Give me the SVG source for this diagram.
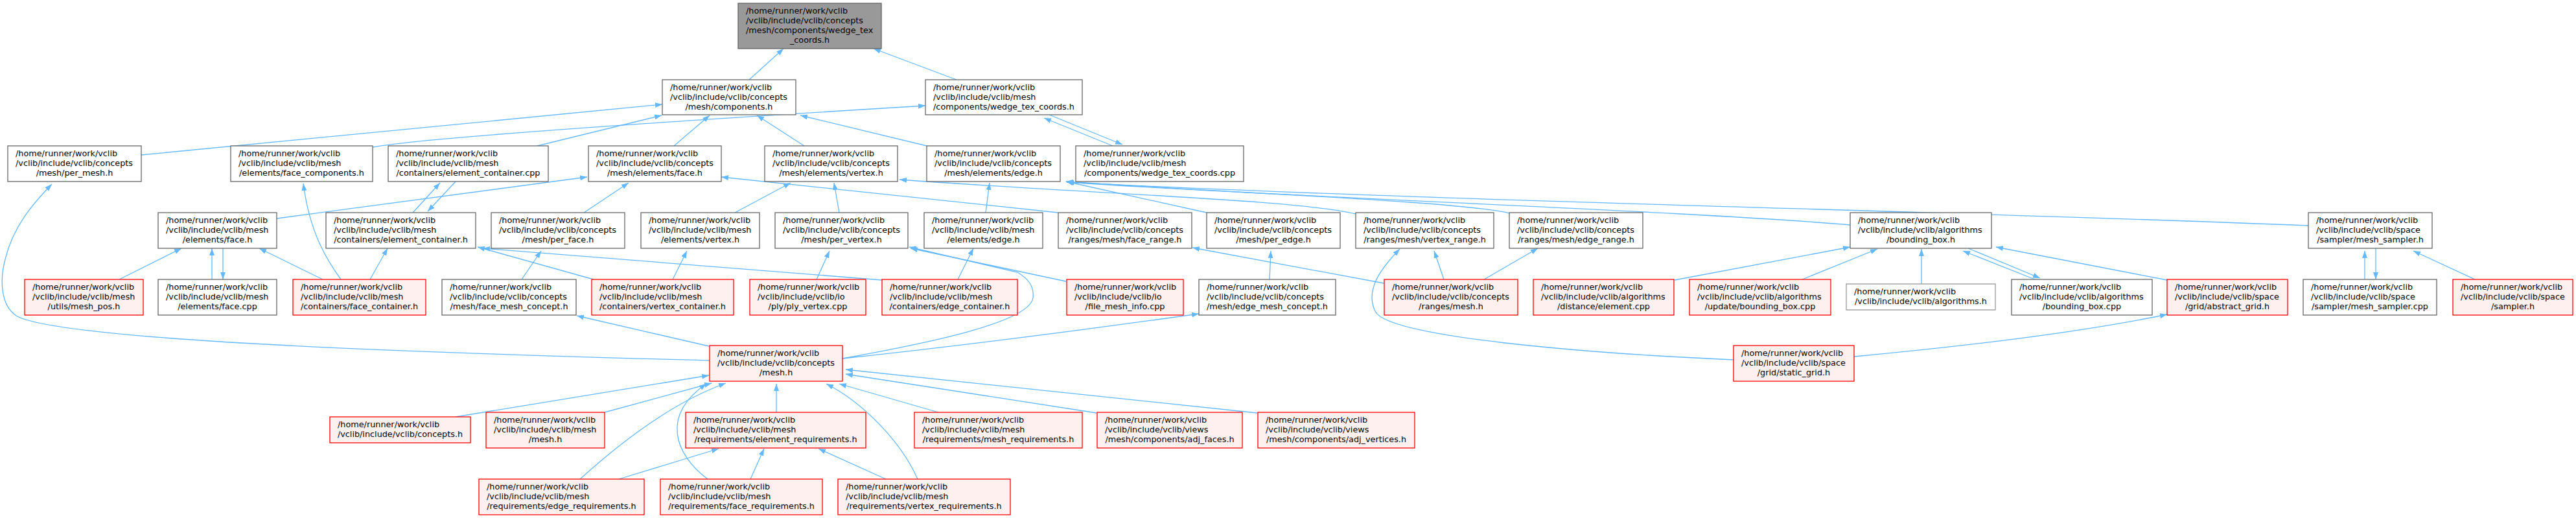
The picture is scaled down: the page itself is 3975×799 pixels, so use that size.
<svg xmlns="http://www.w3.org/2000/svg" width="3975" height="799" viewBox="0 0 3975 799">
<style>
.w{fill:#fff;stroke:#666;stroke-width:1.3}
.r{fill:#fff0f0;stroke:#f00;stroke-width:1.3}
.g{fill:#999;stroke:#666;stroke-width:1.3}
.l{fill:#fff;stroke:#999;stroke-width:1.3}
.t{font-family:'DejaVu Sans',sans-serif;font-size:12.8px;fill:#000}
.c{font-family:'DejaVu Sans',sans-serif;font-size:12.8px;fill:#000;text-anchor:middle}
.e{fill:none;stroke:#63b8ff;stroke-width:1.3;marker-end:url(#ah)}
</style>
<defs>
<marker id="ah" viewBox="0 0 11 8" refX="11" refY="4" markerWidth="11" markerHeight="8" markerUnits="userSpaceOnUse" orient="auto"><path d="M0,0 L11,4 L0,8 z" fill="#63b8ff"/></marker>
</defs>
<rect width="3975" height="799" fill="#fff"/>
<g id="edges">
<path class="e" d="M1156,123 L1209,75"/>
<path class="e" d="M1476,123 L1348,75"/>
<path class="e" d="M218,239 L1022,161"/>
<path class="e" d="M575,227 C640,215 900,195 1428,163"/>
<path class="e" d="M829,225 L1021,178"/>
<path class="e" d="M1040,225 L1095,178"/>
<path class="e" d="M1241,225 L1168,178"/>
<path class="e" d="M1430,225 L1235,178"/>
<path class="e" d="M1717,225 L1611,182"/>
<path class="e" d="M1619,177 L1732,223"/>
<path class="e" d="M427,337 L906,273"/>
<path class="e" d="M637,328 L679,282"/>
<path class="e" d="M703,280 L660,326"/>
<path class="e" d="M901,328 L970,282"/>
<path class="e" d="M1633,328 L1113,273"/>
<path class="e" d="M1134,328 L1220,282"/>
<path class="e" d="M1295,328 L1287,282"/>
<path class="e" d="M1521,328 L1527,282"/>
<path class="e" d="M1862,328 L1645,280"/>
<path class="e" d="M2092,330 C2000,308 1700,300 1388,277"/>
<path class="e" d="M2330,329 C2250,310 1900,298 1645,280"/>
<path class="e" d="M2855,347 C2600,325 2000,305 1646,281"/>
<path class="e" d="M3562,348 C3000,325 2200,310 1646,281"/>
<path class="e" d="M184,431 L280,383"/>
<path class="e" d="M327,431 L327,383"/>
<path class="e" d="M344,383 L344,431"/>
<path class="e" d="M498,431 L400,383"/>
<path class="e" d="M571,431 L598,383"/>
<path class="e" d="M526,431 C505,402 478,360 468,283"/>
<path class="e" d="M1095,556 C800,548 100,530 25,487 C0,470 0,430 8,400 C20,350 50,315 80,284"/>
<path class="e" d="M916,431 L737,381"/>
<path class="e" d="M1361,432 L745,383"/>
<path class="e" d="M805,431 L835,387"/>
<path class="e" d="M1038,431 L1060,387"/>
<path class="e" d="M1260,431 L1280,387"/>
<path class="e" d="M1478,431 L1502,383"/>
<path class="e" d="M1300,553 C1400,535 1590,500 1594,459 C1596,440 1585,429 1570,420 L1403,381"/>
<path class="e" d="M1645,434 L1405,383"/>
<path class="e" d="M2136,437 L1840,382"/>
<path class="e" d="M1959,431 L1961,387"/>
<path class="e" d="M2228,431 L2213,387"/>
<path class="e" d="M2290,431 L2373,383"/>
<path class="e" d="M2675,555 C2450,545 2140,520 2122,480 C2105,445 2135,410 2160,384"/>
<path class="e" d="M2584,432 L2855,381"/>
<path class="e" d="M2781,431 L2897,384"/>
<path class="e" d="M2965,438 L2965,384"/>
<path class="e" d="M3037,383 L3148,429"/>
<path class="e" d="M3140,431 L3029,387"/>
<path class="e" d="M3344,432 L3080,381"/>
<path class="e" d="M2861,550 C3000,537 3200,515 3344,485"/>
<path class="e" d="M3649,431 L3649,387"/>
<path class="e" d="M3666,383 L3666,431"/>
<path class="e" d="M3819,431 L3724,387"/>
<path class="e" d="M1094,534 L890,487"/>
<path class="e" d="M1300,553 C1450,537 1650,512 1850,484"/>
<path class="e" d="M703,643 L1094,579"/>
<path class="e" d="M933,636 L1098,591"/>
<path class="e" d="M1198,636 L1198,592"/>
<path class="e" d="M1448,636 L1295,592"/>
<path class="e" d="M1692,637 L1305,577"/>
<path class="e" d="M1940,637 L1305,570"/>
<path class="e" d="M895,739 C960,680 1040,620 1120,591"/>
<path class="e" d="M1092,739 C1040,700 1020,640 1090,592"/>
<path class="e" d="M1416,739 C1390,680 1330,620 1275,592"/>
<path class="e" d="M955,739 L1109,692"/>
<path class="e" d="M1158,739 L1179,692"/>
<path class="e" d="M1367,739 L1263,692"/>
</g>
<g id="n_top"><rect class="g" x="1139" y="5" width="221" height="70"/><text class="t" x="1151" y="20.5">/home/runner/work/vclib</text><text class="t" x="1151" y="35.5">/vclib/include/vclib/concepts</text><text class="t" x="1151" y="50.5">/mesh/components/wedge_tex</text><text class="c" x="1249.5" y="65.5">_coords.h</text></g>
<g id="n_components"><rect class="w" x="1022" y="123" width="206" height="54"/><text class="t" x="1034" y="138.5">/home/runner/work/vclib</text><text class="t" x="1034" y="153.5">/vclib/include/vclib/concepts</text><text class="c" x="1125" y="168.5">/mesh/components.h</text></g>
<g id="n_wedge_h"><rect class="w" x="1428" y="123" width="242" height="54"/><text class="t" x="1440" y="138.5">/home/runner/work/vclib</text><text class="t" x="1440" y="153.5">/vclib/include/vclib/mesh</text><text class="c" x="1549" y="168.5">/components/wedge_tex_coords.h</text></g>
<g id="n_per_mesh"><rect class="w" x="12" y="225" width="206" height="55"/><text class="t" x="24" y="240.5">/home/runner/work/vclib</text><text class="t" x="24" y="255.5">/vclib/include/vclib/concepts</text><text class="c" x="115" y="270.5">/mesh/per_mesh.h</text></g>
<g id="n_face_components"><rect class="w" x="356" y="225" width="219" height="55"/><text class="t" x="368" y="240.5">/home/runner/work/vclib</text><text class="t" x="368" y="255.5">/vclib/include/vclib/mesh</text><text class="c" x="465.5" y="270.5">/elements/face_components.h</text></g>
<g id="n_ec_cpp"><rect class="w" x="599" y="225" width="247" height="55"/><text class="t" x="611" y="240.5">/home/runner/work/vclib</text><text class="t" x="611" y="255.5">/vclib/include/vclib/mesh</text><text class="c" x="722.5" y="270.5">/containers/element_container.cpp</text></g>
<g id="n_cface"><rect class="w" x="908" y="225" width="205" height="55"/><text class="t" x="920" y="240.5">/home/runner/work/vclib</text><text class="t" x="920" y="255.5">/vclib/include/vclib/concepts</text><text class="c" x="1010.5" y="270.5">/mesh/elements/face.h</text></g>
<g id="n_cvertex"><rect class="w" x="1180" y="225" width="205" height="55"/><text class="t" x="1192" y="240.5">/home/runner/work/vclib</text><text class="t" x="1192" y="255.5">/vclib/include/vclib/concepts</text><text class="c" x="1282.5" y="270.5">/mesh/elements/vertex.h</text></g>
<g id="n_cedge"><rect class="w" x="1430" y="225" width="206" height="55"/><text class="t" x="1442" y="240.5">/home/runner/work/vclib</text><text class="t" x="1442" y="255.5">/vclib/include/vclib/concepts</text><text class="c" x="1533" y="270.5">/mesh/elements/edge.h</text></g>
<g id="n_wedge_cpp"><rect class="w" x="1660" y="225" width="259" height="55"/><text class="t" x="1672" y="240.5">/home/runner/work/vclib</text><text class="t" x="1672" y="255.5">/vclib/include/vclib/mesh</text><text class="c" x="1789.5" y="270.5">/components/wedge_tex_coords.cpp</text></g>
<g id="n_face_h"><rect class="w" x="244" y="328" width="183" height="55"/><text class="t" x="256" y="343.5">/home/runner/work/vclib</text><text class="t" x="256" y="358.5">/vclib/include/vclib/mesh</text><text class="c" x="335.5" y="373.5">/elements/face.h</text></g>
<g id="n_ec_h"><rect class="w" x="503" y="328" width="231" height="55"/><text class="t" x="515" y="343.5">/home/runner/work/vclib</text><text class="t" x="515" y="358.5">/vclib/include/vclib/mesh</text><text class="c" x="618.5" y="373.5">/containers/element_container.h</text></g>
<g id="n_per_face"><rect class="w" x="758" y="328" width="206" height="55"/><text class="t" x="770" y="343.5">/home/runner/work/vclib</text><text class="t" x="770" y="358.5">/vclib/include/vclib/concepts</text><text class="c" x="861" y="373.5">/mesh/per_face.h</text></g>
<g id="n_mvertex"><rect class="w" x="989" y="328" width="183" height="55"/><text class="t" x="1001" y="343.5">/home/runner/work/vclib</text><text class="t" x="1001" y="358.5">/vclib/include/vclib/mesh</text><text class="c" x="1080.5" y="373.5">/elements/vertex.h</text></g>
<g id="n_per_vertex"><rect class="w" x="1196" y="328" width="205" height="55"/><text class="t" x="1208" y="343.5">/home/runner/work/vclib</text><text class="t" x="1208" y="358.5">/vclib/include/vclib/concepts</text><text class="c" x="1298.5" y="373.5">/mesh/per_vertex.h</text></g>
<g id="n_medge"><rect class="w" x="1426" y="328" width="183" height="55"/><text class="t" x="1438" y="343.5">/home/runner/work/vclib</text><text class="t" x="1438" y="358.5">/vclib/include/vclib/mesh</text><text class="c" x="1517.5" y="373.5">/elements/edge.h</text></g>
<g id="n_face_range"><rect class="w" x="1633" y="328" width="206" height="55"/><text class="t" x="1645" y="343.5">/home/runner/work/vclib</text><text class="t" x="1645" y="358.5">/vclib/include/vclib/concepts</text><text class="c" x="1736" y="373.5">/ranges/mesh/face_range.h</text></g>
<g id="n_per_edge"><rect class="w" x="1862" y="328" width="206" height="55"/><text class="t" x="1874" y="343.5">/home/runner/work/vclib</text><text class="t" x="1874" y="358.5">/vclib/include/vclib/concepts</text><text class="c" x="1965" y="373.5">/mesh/per_edge.h</text></g>
<g id="n_vertex_range"><rect class="w" x="2092" y="328" width="213" height="55"/><text class="t" x="2104" y="343.5">/home/runner/work/vclib</text><text class="t" x="2104" y="358.5">/vclib/include/vclib/concepts</text><text class="c" x="2198.5" y="373.5">/ranges/mesh/vertex_range.h</text></g>
<g id="n_edge_range"><rect class="w" x="2329" y="328" width="206" height="55"/><text class="t" x="2341" y="343.5">/home/runner/work/vclib</text><text class="t" x="2341" y="358.5">/vclib/include/vclib/concepts</text><text class="c" x="2432" y="373.5">/ranges/mesh/edge_range.h</text></g>
<g id="n_bbox_h"><rect class="w" x="2855" y="328" width="218" height="55"/><text class="t" x="2867" y="343.5">/home/runner/work/vclib</text><text class="t" x="2867" y="358.5">/vclib/include/vclib/algorithms</text><text class="c" x="2964" y="373.5">/bounding_box.h</text></g>
<g id="n_msampler_h"><rect class="w" x="3562" y="328" width="191" height="55"/><text class="t" x="3574" y="343.5">/home/runner/work/vclib</text><text class="t" x="3574" y="358.5">/vclib/include/vclib/space</text><text class="c" x="3657.5" y="373.5">/sampler/mesh_sampler.h</text></g>
<g id="n_mesh_pos"><rect class="r" x="38" y="431" width="183" height="55"/><text class="t" x="50" y="446.5">/home/runner/work/vclib</text><text class="t" x="50" y="461.5">/vclib/include/vclib/mesh</text><text class="c" x="129.5" y="476.5">/utils/mesh_pos.h</text></g>
<g id="n_face_cpp"><rect class="w" x="244" y="431" width="183" height="55"/><text class="t" x="256" y="446.5">/home/runner/work/vclib</text><text class="t" x="256" y="461.5">/vclib/include/vclib/mesh</text><text class="c" x="335.5" y="476.5">/elements/face.cpp</text></g>
<g id="n_face_container"><rect class="r" x="452" y="431" width="205" height="55"/><text class="t" x="464" y="446.5">/home/runner/work/vclib</text><text class="t" x="464" y="461.5">/vclib/include/vclib/mesh</text><text class="c" x="554.5" y="476.5">/containers/face_container.h</text></g>
<g id="n_face_mesh_concept"><rect class="w" x="682" y="431" width="207" height="55"/><text class="t" x="694" y="446.5">/home/runner/work/vclib</text><text class="t" x="694" y="461.5">/vclib/include/vclib/concepts</text><text class="c" x="785.5" y="476.5">/mesh/face_mesh_concept.h</text></g>
<g id="n_vertex_container"><rect class="r" x="913" y="431" width="219" height="55"/><text class="t" x="925" y="446.5">/home/runner/work/vclib</text><text class="t" x="925" y="461.5">/vclib/include/vclib/mesh</text><text class="c" x="1022.5" y="476.5">/containers/vertex_container.h</text></g>
<g id="n_ply_vertex"><rect class="r" x="1157" y="431" width="179" height="55"/><text class="t" x="1169" y="446.5">/home/runner/work/vclib</text><text class="t" x="1169" y="461.5">/vclib/include/vclib/io</text><text class="c" x="1246.5" y="476.5">/ply/ply_vertex.cpp</text></g>
<g id="n_edge_container"><rect class="r" x="1361" y="431" width="209" height="55"/><text class="t" x="1373" y="446.5">/home/runner/work/vclib</text><text class="t" x="1373" y="461.5">/vclib/include/vclib/mesh</text><text class="c" x="1465.5" y="476.5">/containers/edge_container.h</text></g>
<g id="n_file_mesh_info"><rect class="r" x="1646" y="431" width="180" height="55"/><text class="t" x="1658" y="446.5">/home/runner/work/vclib</text><text class="t" x="1658" y="461.5">/vclib/include/vclib/io</text><text class="c" x="1736" y="476.5">/file_mesh_info.cpp</text></g>
<g id="n_edge_mesh_concept"><rect class="w" x="1850" y="431" width="211" height="55"/><text class="t" x="1862" y="446.5">/home/runner/work/vclib</text><text class="t" x="1862" y="461.5">/vclib/include/vclib/concepts</text><text class="c" x="1955.5" y="476.5">/mesh/edge_mesh_concept.h</text></g>
<g id="n_ranges_mesh"><rect class="r" x="2136" y="431" width="206" height="55"/><text class="t" x="2148" y="446.5">/home/runner/work/vclib</text><text class="t" x="2148" y="461.5">/vclib/include/vclib/concepts</text><text class="c" x="2239" y="476.5">/ranges/mesh.h</text></g>
<g id="n_distance"><rect class="r" x="2366" y="431" width="217" height="55"/><text class="t" x="2378" y="446.5">/home/runner/work/vclib</text><text class="t" x="2378" y="461.5">/vclib/include/vclib/algorithms</text><text class="c" x="2474.5" y="476.5">/distance/element.cpp</text></g>
<g id="n_update_bbox"><rect class="r" x="2607" y="431" width="218" height="55"/><text class="t" x="2619" y="446.5">/home/runner/work/vclib</text><text class="t" x="2619" y="461.5">/vclib/include/vclib/algorithms</text><text class="c" x="2716" y="476.5">/update/bounding_box.cpp</text></g>
<g id="n_algorithms"><rect class="l" x="2849" y="438" width="230" height="40"/><text class="t" x="2861" y="453.5">/home/runner/work/vclib</text><text class="c" x="2964" y="468.5">/vclib/include/vclib/algorithms.h</text></g>
<g id="n_bbox_cpp"><rect class="w" x="3104" y="431" width="217" height="55"/><text class="t" x="3116" y="446.5">/home/runner/work/vclib</text><text class="t" x="3116" y="461.5">/vclib/include/vclib/algorithms</text><text class="c" x="3212.5" y="476.5">/bounding_box.cpp</text></g>
<g id="n_abstract_grid"><rect class="r" x="3344" y="431" width="186" height="55"/><text class="t" x="3356" y="446.5">/home/runner/work/vclib</text><text class="t" x="3356" y="461.5">/vclib/include/vclib/space</text><text class="c" x="3437" y="476.5">/grid/abstract_grid.h</text></g>
<g id="n_msampler_cpp"><rect class="w" x="3554" y="431" width="206" height="55"/><text class="t" x="3566" y="446.5">/home/runner/work/vclib</text><text class="t" x="3566" y="461.5">/vclib/include/vclib/space</text><text class="c" x="3657" y="476.5">/sampler/mesh_sampler.cpp</text></g>
<g id="n_sampler"><rect class="r" x="3785" y="431" width="185" height="55"/><text class="t" x="3797" y="446.5">/home/runner/work/vclib</text><text class="t" x="3797" y="461.5">/vclib/include/vclib/space</text><text class="c" x="3877.5" y="476.5">/sampler.h</text></g>
<g id="n_mesh"><rect class="r" x="1095" y="533" width="205" height="55"/><text class="t" x="1107" y="548.5">/home/runner/work/vclib</text><text class="t" x="1107" y="563.5">/vclib/include/vclib/concepts</text><text class="c" x="1197.5" y="578.5">/mesh.h</text></g>
<g id="n_static_grid"><rect class="r" x="2675" y="533" width="186" height="55"/><text class="t" x="2687" y="548.5">/home/runner/work/vclib</text><text class="t" x="2687" y="563.5">/vclib/include/vclib/space</text><text class="c" x="2768" y="578.5">/grid/static_grid.h</text></g>
<g id="n_concepts_h"><rect class="r" x="509" y="643" width="217" height="40"/><text class="t" x="521" y="658.5">/home/runner/work/vclib</text><text class="c" x="617.5" y="673.5">/vclib/include/vclib/concepts.h</text></g>
<g id="n_mmesh"><rect class="r" x="750" y="636" width="183" height="55"/><text class="t" x="762" y="651.5">/home/runner/work/vclib</text><text class="t" x="762" y="666.5">/vclib/include/vclib/mesh</text><text class="c" x="841.5" y="681.5">/mesh.h</text></g>
<g id="n_element_req"><rect class="r" x="1058" y="636" width="278" height="55"/><text class="t" x="1070" y="651.5">/home/runner/work/vclib</text><text class="t" x="1070" y="666.5">/vclib/include/vclib/mesh</text><text class="c" x="1197" y="681.5">/requirements/element_requirements.h</text></g>
<g id="n_mesh_req"><rect class="r" x="1411" y="636" width="259" height="55"/><text class="t" x="1423" y="651.5">/home/runner/work/vclib</text><text class="t" x="1423" y="666.5">/vclib/include/vclib/mesh</text><text class="c" x="1540.5" y="681.5">/requirements/mesh_requirements.h</text></g>
<g id="n_adj_faces"><rect class="r" x="1693" y="636" width="224" height="55"/><text class="t" x="1705" y="651.5">/home/runner/work/vclib</text><text class="t" x="1705" y="666.5">/vclib/include/vclib/views</text><text class="c" x="1805" y="681.5">/mesh/components/adj_faces.h</text></g>
<g id="n_adj_vertices"><rect class="r" x="1941" y="636" width="242" height="55"/><text class="t" x="1953" y="651.5">/home/runner/work/vclib</text><text class="t" x="1953" y="666.5">/vclib/include/vclib/views</text><text class="c" x="2062" y="681.5">/mesh/components/adj_vertices.h</text></g>
<g id="n_edge_req"><rect class="r" x="739" y="739" width="255" height="55"/><text class="t" x="751" y="754.5">/home/runner/work/vclib</text><text class="t" x="751" y="769.5">/vclib/include/vclib/mesh</text><text class="c" x="866.5" y="784.5">/requirements/edge_requirements.h</text></g>
<g id="n_face_req"><rect class="r" x="1019" y="739" width="250" height="55"/><text class="t" x="1031" y="754.5">/home/runner/work/vclib</text><text class="t" x="1031" y="769.5">/vclib/include/vclib/mesh</text><text class="c" x="1144" y="784.5">/requirements/face_requirements.h</text></g>
<g id="n_vertex_req"><rect class="r" x="1293" y="739" width="266" height="55"/><text class="t" x="1305" y="754.5">/home/runner/work/vclib</text><text class="t" x="1305" y="769.5">/vclib/include/vclib/mesh</text><text class="c" x="1426" y="784.5">/requirements/vertex_requirements.h</text></g>
</svg>
